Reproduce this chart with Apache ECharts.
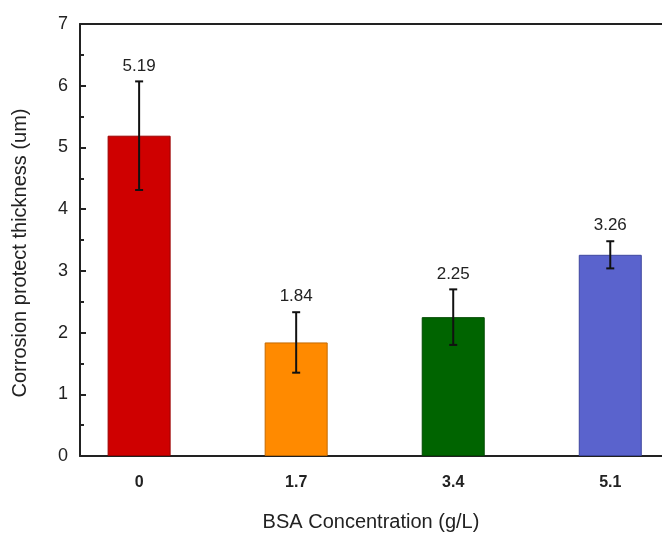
<!DOCTYPE html>
<html>
<head>
<meta charset="utf-8">
<script src="https://cdn.jsdelivr.net/npm/echarts@6/dist/echarts.min.js"></script>
<style>
  html, body { margin: 0; padding: 0; background: #fff; }
  #chart { width: 662px; height: 534px; }
</style>
</head>
<body>
<div id="chart"></div>
<script>
// BSA concentration (g/L)
const concentrations = [0, 1.7, 3.4, 5.1];
const thickness = [5.19, 1.84, 2.25, 3.26];
const errors = [0.88, 0.49, 0.45, 0.22];
const barColors = ["#cf0000", "#ff8a00", "#006400", "#5a63cd"];
const borderColors = ["#9a0000", "#c46a00", "#004a00", "#3e469e"];
const yTicks = [0, 1, 2, 3, 4, 5, 6, 7];

const font = "'Liberation Sans', Arial, sans-serif";

const chart = echarts.init(document.getElementById("chart"));

const barData = concentrations.map((x, i) => ({
  value: [x, thickness[i]],
  itemStyle: { color: barColors[i], borderColor: borderColors[i], borderWidth: 1 },
}));

const errData = concentrations.map((x, i) => [
  x,
  thickness[i] - errors[i],
  thickness[i] + errors[i],
  thickness[i],
]);

const xMin = -0.64;
const xMax = 5.66;
const yMin = yTicks[0];
const yMax = yTicks[yTicks.length - 1];

const option = {
  backgroundColor: "#fff",
  animation: false,
  grid: { left: 80, right: 0, top: 24, bottom: 78, outerBoundsMode: "none", containLabel: false },
  xAxis: [
    {
      type: "value",
      min: xMin,
      max: xMax,
      name: "BSA Concentration (g/L)",
      nameLocation: "middle",
      nameGap: 56,
      nameTextStyle: { fontFamily: font, fontSize: 20, color: "#222" },
      axisLine: { show: true, onZero: false, lineStyle: { color: "#222", width: 2 } },
      axisTick: { show: false },
      splitLine: { show: false },
      axisLabel: {
        customValues: concentrations,
        formatter: (v) => String(v),
        margin: 19,
        fontFamily: font,
        fontSize: 16,
        fontWeight: "bold",
        color: "#222",
      },
    },
    {
      type: "value",
      position: "top",
      min: xMin,
      max: xMax,
      axisLine: { show: true, onZero: false, lineStyle: { color: "#222", width: 2 } },
      axisTick: { show: false },
      axisLabel: { show: false },
      splitLine: { show: false },
    },
  ],
  yAxis: [
    {
      type: "value",
      min: yMin,
      max: yMax,
      interval: 1,
      name: "Corrosion protect thickness (um)",
      nameLocation: "middle",
      nameGap: 50,
      nameTextStyle: { fontFamily: font, fontSize: 20, color: "#222", padding: [0, 26, 0, 0] },
      axisLine: { show: true, onZero: false, lineStyle: { color: "#222", width: 2 } },
      axisTick: { show: true, inside: true, length: 6, lineStyle: { color: "#222", width: 2 } },
      splitLine: { show: false },
      axisLabel: { margin: 12, fontFamily: font, fontSize: 18, color: "#222" },
    },
    {
      // minor ticks (inside) at every 0.5
      type: "value",
      position: "left",
      offset: 0,
      min: yMin,
      max: yMax,
      interval: 0.5,
      axisLine: { show: false, onZero: false },
      axisTick: { show: true, inside: true, length: 4, lineStyle: { color: "#222", width: 2 } },
      axisLabel: { show: false },
      splitLine: { show: false },
    },
  ],
  series: [
    {
      type: "bar",
      data: barData,
      barWidth: 63,
    },
    {
      type: "custom",
      data: errData,
      z: 10,
      renderItem: (params, api) => {
        const x = api.value(0);
        const lo = api.coord([x, api.value(1)]);
        const hi = api.coord([x, api.value(2)]);
        const cap = 4;
        const style = { stroke: "#111", lineWidth: 2 };
        return {
          type: "group",
          children: [
            { type: "line", shape: { x1: hi[0], y1: hi[1], x2: lo[0], y2: lo[1] }, style },
            { type: "line", shape: { x1: hi[0] - cap, y1: hi[1], x2: hi[0] + cap, y2: hi[1] }, style },
            { type: "line", shape: { x1: lo[0] - cap, y1: lo[1], x2: lo[0] + cap, y2: lo[1] }, style },
            {
              type: "text",
              x: hi[0],
              y: hi[1] - 7,
              style: {
                text: api.value(3).toFixed(2),
                font: "17px " + font,
                fill: "#222",
                align: "center",
                verticalAlign: "bottom",
              },
            },
          ],
        };
      },
    },
  ],
};

chart.setOption(option);
</script>
</body>
</html>
